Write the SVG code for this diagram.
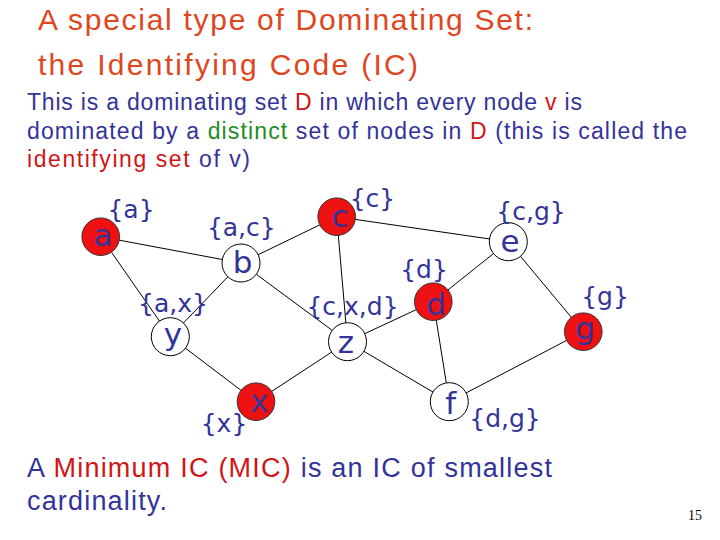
<svg xmlns="http://www.w3.org/2000/svg" width="720" height="540" viewBox="0 0 720 540">
<style>
.title{font-family:"Liberation Sans",Arial,sans-serif;font-size:30px;fill:#E0461E}
.body{font-family:"Liberation Sans",Arial,sans-serif;font-size:23px;fill:#333399}
.foot{font-family:"Liberation Sans",Arial,sans-serif;font-size:27px;fill:#333399}
.red{fill:#D01515}
.green{fill:#228B22}
.edge{stroke:#000;stroke-width:1;fill:none}
.on{fill:#EE1111;stroke:#333;stroke-width:1}
.off{fill:#fff;stroke:#000;stroke-width:1}
.nl{font-family:"DejaVu Sans",sans-serif;font-size:31px;fill:#333399;text-anchor:middle}
.lb{font-family:"DejaVu Sans",sans-serif;font-size:25px;fill:#333399;text-anchor:middle}
.pg{font-family:"Liberation Serif","Times New Roman",serif;font-size:14px;fill:#000}
</style>
<rect width="720" height="540" fill="#fff"/>
<text class="title" x="38" y="30" textLength="495">A special type of Dominating Set:</text>
<text class="title" x="38" y="75" textLength="380">the Identifying Code (IC)</text>
<text class="body" x="27" y="110" textLength="555">This is a dominating set <tspan class="red">D</tspan> in which every node <tspan class="red">v</tspan> is</text>
<text class="body" x="27" y="139" textLength="660">dominated by a <tspan class="green">distinct</tspan> set of nodes in <tspan class="red">D</tspan> (this is called the</text>
<text class="body" x="27" y="167" textLength="223"><tspan class="red">identifying set</tspan> of v)</text>
<g id="connectors">
<line class="edge" x1="100.7" y1="236.7" x2="241" y2="263"/>
<line class="edge" x1="100.7" y1="236.7" x2="170.3" y2="336.7"/>
<line class="edge" x1="241" y1="263" x2="336.7" y2="216.7"/>
<line class="edge" x1="241" y1="263" x2="170.3" y2="336.7"/>
<line class="edge" x1="241" y1="263" x2="347.5" y2="341.7"/>
<line class="edge" x1="170.3" y1="336.7" x2="256" y2="401.7"/>
<line class="edge" x1="256" y1="401.7" x2="347.5" y2="341.7"/>
<line class="edge" x1="336.7" y1="216.7" x2="347.5" y2="341.7"/>
<line class="edge" x1="336.7" y1="216.7" x2="508.3" y2="241.7"/>
<line class="edge" x1="347.5" y1="341.7" x2="433.3" y2="301.7"/>
<line class="edge" x1="347.5" y1="341.7" x2="449.3" y2="401.7"/>
<line class="edge" x1="433.3" y1="301.7" x2="508.3" y2="241.7"/>
<line class="edge" x1="433.3" y1="301.7" x2="449.3" y2="401.7"/>
<line class="edge" x1="508.3" y1="241.7" x2="583.3" y2="331.7"/>
<line class="edge" x1="583.3" y1="331.7" x2="449.3" y2="401.7"/>
</g>
<g id="node-a"><circle class="on" cx="100.7" cy="236.7" r="18.8"/><text class="nl" x="103" y="246">a</text><text class="lb" x="131" y="218">{a}</text></g>
<g id="node-b"><circle class="off" cx="241" cy="263" r="19"/><text class="nl" x="242.5" y="272.7">b</text><text class="lb" x="241.3" y="236">{a,c}</text></g>
<g id="node-c"><circle class="on" cx="336.7" cy="216.7" r="18.8"/><text class="nl" x="340" y="226.7">c</text><text class="lb" x="372.5" y="207">{c}</text></g>
<g id="node-y"><circle class="off" cx="170.3" cy="336.7" r="19"/><text class="nl" x="173" y="345">y</text><text class="lb" x="173" y="312">{a,x}</text></g>
<g id="node-z"><circle class="off" cx="347.5" cy="341.7" r="19"/><text class="nl" x="346" y="353">z</text><text class="lb" x="352.5" y="315">{c,x,d}</text></g>
<g id="node-x"><circle class="on" cx="256" cy="401.7" r="18.8"/><text class="nl" x="259.5" y="412">x</text><text class="lb" x="224" y="432">{x}</text></g>
<g id="node-d"><circle class="on" cx="433.3" cy="301.7" r="18.8"/><text class="nl" x="436" y="315">d</text><text class="lb" x="424" y="278.3">{d}</text></g>
<g id="node-e"><circle class="off" cx="508.3" cy="241.7" r="19"/><text class="nl" x="510" y="251.7">e</text><text class="lb" x="531" y="219.5">{c,g}</text></g>
<g id="node-g"><circle class="on" cx="583.3" cy="331.7" r="18.8"/><text class="nl" x="585" y="338.5">g</text><text class="lb" x="605" y="305">{g}</text></g>
<g id="node-f"><circle class="off" cx="449.3" cy="401.7" r="19"/><text class="nl" x="450.7" y="414">f</text><text class="lb" x="505" y="426.7">{d,g}</text></g>
<text class="foot" x="27" y="477" textLength="525">A <tspan class="red">Minimum IC (MIC)</tspan> is an IC of smallest</text>
<text class="foot" x="27" y="510" textLength="140">cardinality.</text>
<text class="pg" x="688" y="520">15</text>
</svg>
